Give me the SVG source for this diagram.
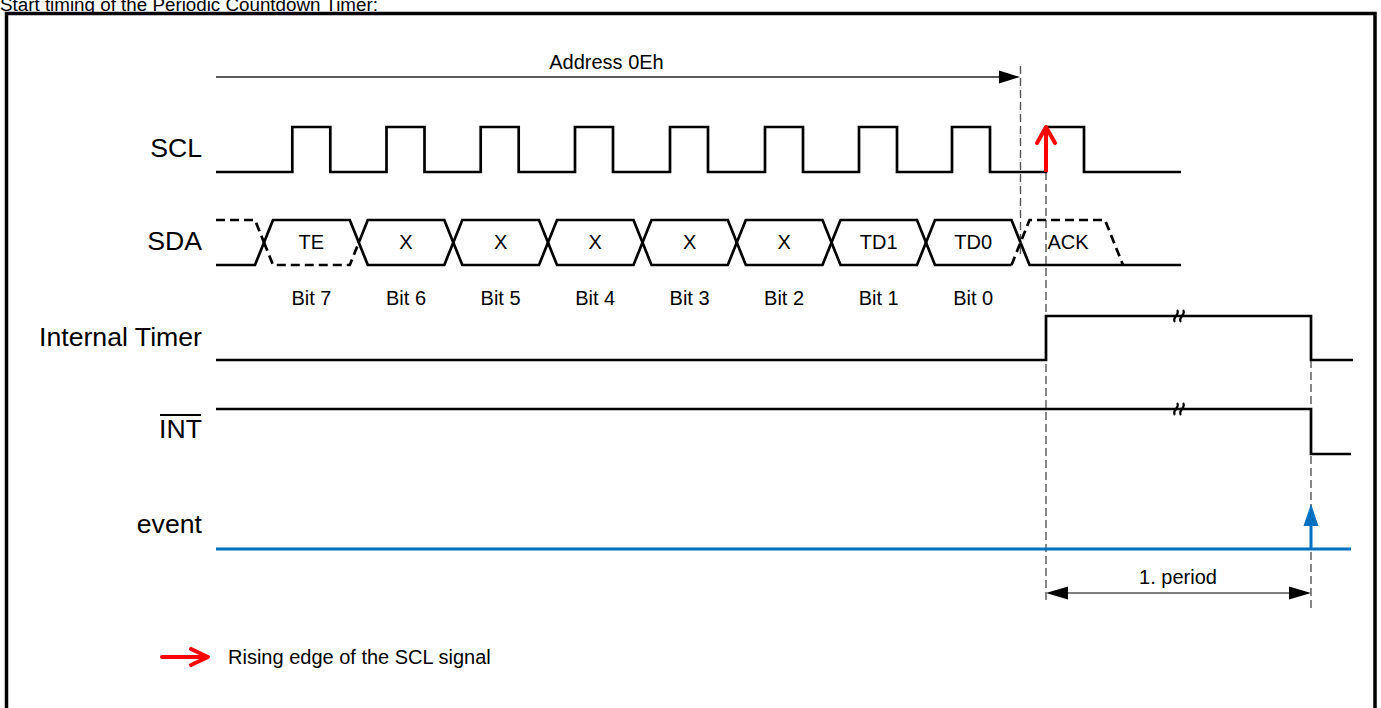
<svg xmlns="http://www.w3.org/2000/svg" width="1381" height="708" viewBox="0 0 1381 708">
<style>
text{font-family:"Liberation Sans",Arial,sans-serif;fill:#000}
.lbl{font-size:26.67px;text-anchor:end}
.sm{font-size:20px;text-anchor:middle}
.sig{fill:none;stroke:#000;stroke-width:2.7;stroke-linejoin:miter}
.dsh{fill:none;stroke:#000;stroke-width:2.7;stroke-dasharray:9,5}
.guide{fill:none;stroke:#555;stroke-width:1.4;stroke-dasharray:8,4}
</style>
<rect width="1381" height="708" fill="#fff"/>
<text x="0" y="10.5" style="font-size:18.8px">Start timing of the Periodic Countdown Timer:</text>
<rect x="6.5" y="13.5" width="1368.5" height="720" fill="none" stroke="#000" stroke-width="3.5"/>

<g id="labels">
<text class="lbl" x="202" y="157">SCL</text>
<text class="lbl" x="202" y="250">SDA</text>
<text class="lbl" x="202" y="346">Internal Timer</text>
<text class="lbl" x="202" y="438">INT</text>
<line x1="160" y1="415" x2="201" y2="415" stroke="#000" stroke-width="1.8"/>
<text class="lbl" x="202" y="533">event</text>
</g>

<g id="connectors">
<line x1="216" y1="77" x2="1002" y2="77" stroke="#222" stroke-width="1.3"/>
<polygon points="999,70.5 1020,77 999,83.5" fill="#000"/>
<line class="guide" x1="1020.5" y1="66" x2="1020.5" y2="255"/>
<line class="guide" x1="1046" y1="172" x2="1046" y2="602"/>
<line class="guide" x1="1311" y1="360" x2="1311" y2="608"/>
<line x1="1066" y1="593" x2="1291" y2="593" stroke="#555" stroke-width="1.5"/>
<polygon points="1046,593 1068,586.5 1068,599.5" fill="#000"/>
<polygon points="1311,593 1289,586.5 1289,599.5" fill="#000"/>
<text class="sm" x="1178" y="584">1. period</text>
</g>

<g id="address">
<text class="sm" x="606.5" y="69">Address 0Eh</text>
</g>

<g id="scl">
<path class="sig" d="M216,172 H292.3 V127 H330.3 V172 H386.5 V127 H424.5 V172 H480.7 V127 H518.7 V172 H575 V127 H613 V172 H670 V127 H708 V172 H765 V127 H803 V172 H859 V127 H897 V172 H952 V127 H990 V172 H1046 V127 H1084 V172 H1181"/>
</g>

<g id="sda">
<path class="sig" d="M216,265 H255 L264,242.5"/>
<path class="dsh" d="M216,220 H255 L264,242.5"/>
<path class="sig" d="M264,242.5 L273,220 H349.8 L358.8,242.5"/>
<path class="dsh" d="M264,242.5 L273,265 H349.8 L358.8,242.5"/>
<path class="sig" d="M358.8,242.5 L367.8,220 H444.3 L453.3,242.5 L444.3,265 H367.8 Z"/>
<path class="sig" d="M453.3,242.5 L462.3,220 H539 L548,242.5 L539,265 H462.3 Z"/>
<path class="sig" d="M548,242.5 L557,220 H633.5 L642.5,242.5 L633.5,265 H557 Z"/>
<path class="sig" d="M642.5,242.5 L651.5,220 H727.8 L736.8,242.5 L727.8,265 H651.5 Z"/>
<path class="sig" d="M736.8,242.5 L745.8,220 H822.5 L831.5,242.5 L822.5,265 H745.8 Z"/>
<path class="sig" d="M831.5,242.5 L840.5,220 H917 L926,242.5 L917,265 H840.5 Z"/>
<path class="sig" d="M1020.5,242.5 L1011.5,220 H935 L926,242.5 L935,265 H1011.5"/>
<path class="dsh" d="M1011.5,265 L1029.5,220 H1105 L1123,265"/>
<path class="sig" d="M1020.5,242.5 L1029.5,265 H1181"/>
<text class="sm" x="311.4" y="249">TE</text>
<text class="sm" x="406" y="249">X</text>
<text class="sm" x="500.6" y="249">X</text>
<text class="sm" x="595.2" y="249">X</text>
<text class="sm" x="689.6" y="249">X</text>
<text class="sm" x="784.1" y="249">X</text>
<text class="sm" x="878.7" y="249">TD1</text>
<text class="sm" x="973.2" y="249">TD0</text>
<text class="sm" x="1068" y="249">ACK</text>
<text class="sm" x="311.4" y="305">Bit 7</text>
<text class="sm" x="406" y="305">Bit 6</text>
<text class="sm" x="500.6" y="305">Bit 5</text>
<text class="sm" x="595.2" y="305">Bit 4</text>
<text class="sm" x="689.6" y="305">Bit 3</text>
<text class="sm" x="784.1" y="305">Bit 2</text>
<text class="sm" x="878.7" y="305">Bit 1</text>
<text class="sm" x="973.2" y="305">Bit 0</text>
</g>

<g id="timer">
<path class="sig" d="M216,360 H1046 V316 H1311 V360 H1353"/>
<path fill="none" stroke="#000" stroke-width="2.2" d="M1175,322 C1171,318 1181,314 1177,310 M1181,322 C1177,318 1187,314 1183,310"/>
</g>

<g id="int">
<path class="sig" d="M216,409 H1311 V454 H1351"/>
<path fill="none" stroke="#000" stroke-width="2.2" d="M1175,415 C1171,411 1181,407 1177,403 M1181,415 C1177,411 1187,407 1183,403"/>
</g>

<g id="event">
<line x1="216" y1="549" x2="1351" y2="549" stroke="#0070C0" stroke-width="3"/>
<line x1="1311" y1="549" x2="1311" y2="522" stroke="#0070C0" stroke-width="3"/>
<polygon points="1303.5,526 1311,504 1318.5,526" fill="#0070C0"/>
</g>

<g id="red-edge">
<line x1="1046" y1="172" x2="1046" y2="129" stroke="#f00" stroke-width="4"/>
<polyline points="1037,143 1046,127 1055,143" fill="none" stroke="#f00" stroke-width="4" stroke-linecap="round" stroke-linejoin="round"/>
</g>

<g id="legend">
<line x1="162" y1="657" x2="206" y2="657" stroke="#f00" stroke-width="4" stroke-linecap="round"/>
<polyline points="191,649 208,657 191,665" fill="none" stroke="#f00" stroke-width="4" stroke-linecap="round" stroke-linejoin="round"/>
<text x="228" y="664" style="font-size:20px">Rising edge of the SCL signal</text>
</g>
</svg>
